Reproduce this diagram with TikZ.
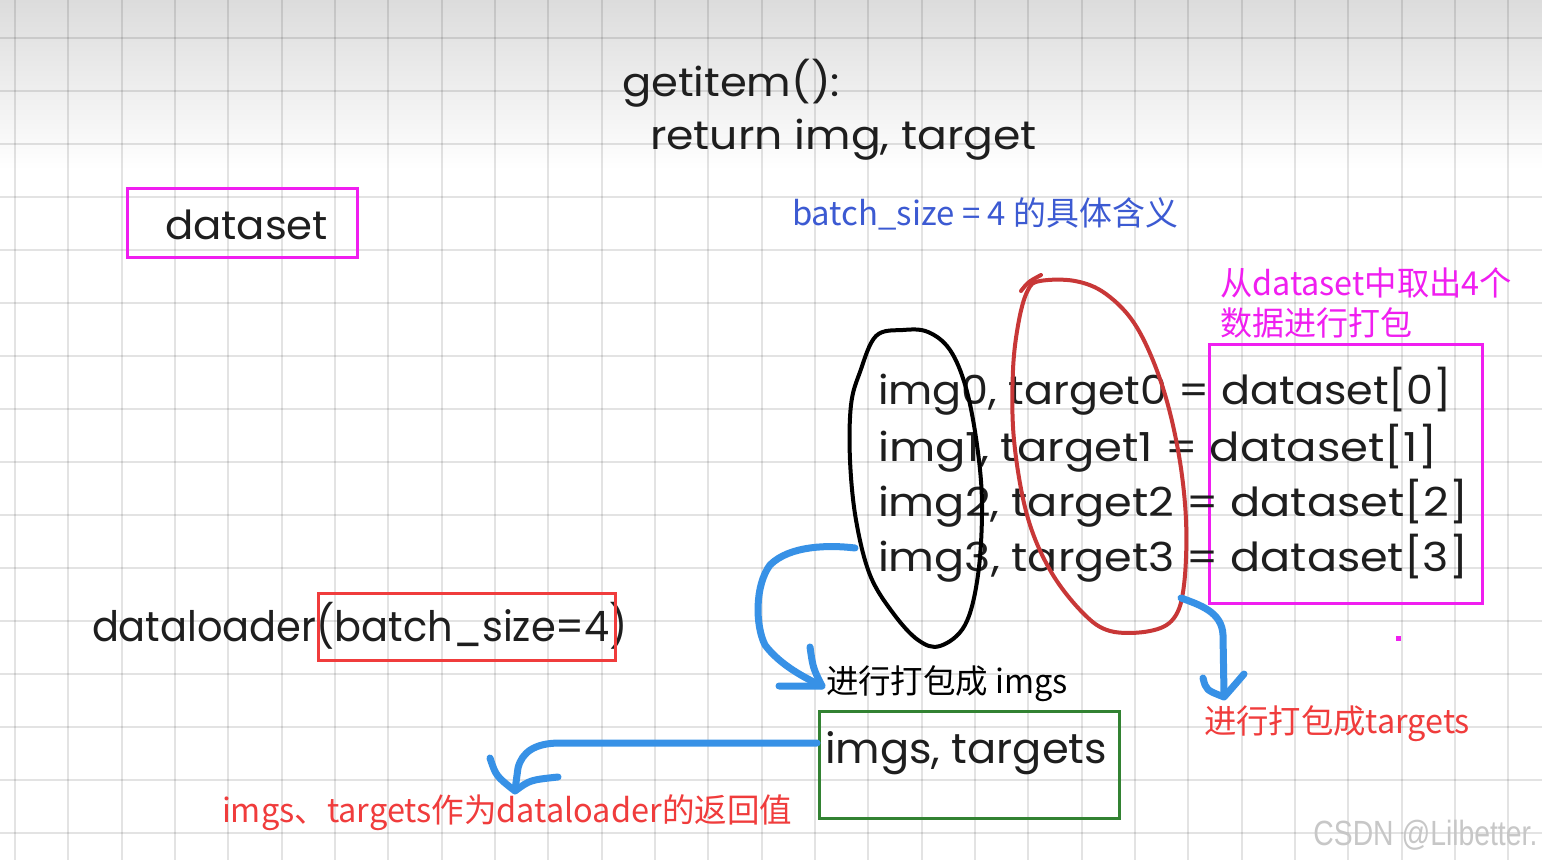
\documentclass[tikz,border=0pt]{standalone}
\usepackage{fontspec}
\usepackage{graphicx}
\setmainfont{Poppins}
\newfontfamily\hand{Poppins}
\newfontfamily\cjk{Noto Sans CJK SC}
\newfontfamily\wmfont{Liberation Sans}
\definecolor{ink}{RGB}{30,30,30}
\definecolor{mag}{RGB}{240,30,240}
\definecolor{redbox}{RGB}{240,60,60}
\definecolor{redtxt}{RGB}{240,60,60}
\definecolor{bluetxt}{RGB}{60,90,210}
\definecolor{greenbox}{RGB}{50,130,50}
\definecolor{arrowblue}{RGB}{55,145,230}
\definecolor{redloop}{RGB}{200,55,55}
\definecolor{topgray}{RGB}{220,220,220}
\newcommand{\fitw}[2]{\resizebox{#1}{\height}{#2}}
\begin{document}
\begin{tikzpicture}[x=0.5pt,y=-0.5pt,
  hw/.style={inner sep=0pt,outer sep=0pt,anchor=base west,text=ink,font=\hand\fontsize{20pt}{24pt}\selectfont},
  cn/.style={inner sep=0pt,outer sep=0pt,anchor=base west,font=\cjk\fontsize{16.5pt}{20pt}\selectfont},
  boxed/.style={draw=#1,line width=1.5pt,inner sep=0pt,outer sep=0pt,anchor=north west},
  gridline/.style={black,opacity=0.11,line width=1pt},
  barrow/.style={draw=arrowblue,line width=3.5pt,line cap=round,line join=round},
  loop/.style={line width=2pt,line cap=round,line join=round}]
\useasboundingbox (0,0) rectangle (1542,860);
\fill[white] (0,0) rectangle (1542,860);
\shade[top color=topgray,bottom color=white] (0,0) rectangle (1542,170);
% grid
\foreach \k in {0,...,28} {\draw[gridline] ({15+53.33*\k},0) -- ({15+53.33*\k},860);}
\foreach \k in {0,...,15} {\draw[gridline] (0,{38+53*\k}) -- (1542,{38+53*\k});}

% top code
\node[hw] (getitem) at (622,97) {\fitw{109pt}{getitem():}};
\node[hw] (ret) at (650,150) {\fitw{193.5pt}{return img, target}};

% dataset box
\node[boxed=mag,minimum width=115pt,minimum height=34.5pt] (dsbox) at (127,189) {};
\node[hw] (ds) at (165,240) {\fitw{81.5pt}{dataset}};

% blue title
\node[cn,text=bluetxt] (title) at (792,226) {\fitw{193pt}{batch\_size = 4 的具体含义}};

% magenta note
\node[cn,text=mag] (note1) at (1220,296) {\fitw{146pt}{从dataset中取出4个}};
\node[cn,text=mag] (note2) at (1220,336) {\fitw{96pt}{数据进行打包}};
\node[boxed=mag,minimum width=136.5pt,minimum height=129.5pt] (dsitems) at (1209,345) {};
\fill[mag] (1396,636) rectangle (1401,641);

% four lines
\node[hw] (l0) at (878,405) {\fitw{287pt}{img0, target0 = dataset[0]}};
\node[hw] (l1) at (878,462) {\fitw{279.5pt}{img1, target1 = dataset[1]}};
\node[hw] (l2) at (878,517) {\fitw{295pt}{img2, target2 = dataset[2]}};
\node[hw] (l3) at (878,572) {\fitw{295pt}{img3, target3 = dataset[3]}};

% black loop around imgs
\draw[loop,black] plot[smooth cycle,tension=0.6] coordinates {(876,336) (903,330) (928,332) (950,350) (966,388) (977,445) (982,505) (978,575) (965,625) (940,646) (918,640) (893,613) (870,575) (856,520) (850,460) (851,405) (860,372)};
\coordinate (imgloop) at (855,548);
% red loop around targets
\draw[loop,redloop] plot[smooth cycle,tension=0.6] coordinates {(1040,281) (1075,281) (1106,294) (1136,326) (1161,382) (1178,450) (1186,520) (1184,585) (1174,618) (1150,631) (1110,631) (1082,612) (1050,570) (1027,515) (1014,440) (1013,370) (1019,320) (1028,290)};
\draw[loop,redloop] (1021,291) .. controls (1028,282) .. (1041,275);
\coordinate (tgtloop) at (1181,598);

% dataloader
\node[hw,font=\hand\fontsize{21pt}{25pt}\selectfont] (dl) at (92,642) {\fitw{268pt}{dataloader(batch\_size=4)}};
\node[boxed=redbox,minimum width=148.5pt,minimum height=33pt] (bsbox) at (318,594) {};

% imgs label
\node[cn,text=black] (packimgs) at (826,693) {\fitw{121pt}{进行打包成 imgs}};
% green result box
\node[boxed=greenbox,minimum width=150pt,minimum height=53.5pt] (result) at (819,711) {};
\node[hw,font=\hand\fontsize{21pt}{25pt}\selectfont] (res) at (825,763) {\fitw{141pt}{imgs, targets}};
\coordinate (resleft) at (817,743);

% targets label
\node[cn,text=redtxt] (packtgts) at (1204,733) {\fitw{133pt}{进行打包成targets}};
% return label
\node[cn,text=redtxt] (retlabel) at (222,822) {\fitw{285pt}{imgs、targets作为dataloader的返回值}};

% blue arrows
\draw[barrow] (imgloop) .. controls (830,545) and (790,545) .. (770,565)
  .. controls (755,585) and (755,625) .. (765,645)
  .. controls (780,665) and (805,678) .. (822,686);
\draw[barrow] (810,647) .. controls (813,668) .. (822,686) -- (779,686);

\draw[barrow] (resleft) -- (560,743) .. controls (535,743) and (522,752) .. (518,768) -- (515,790);
\draw[barrow] (490,758) .. controls (496,776) .. (515,791) .. controls (530,780) .. (558,777);

\draw[barrow] (tgtloop) .. controls (1200,605) and (1222,612) .. (1223,635) -- (1224,694);
\draw[barrow] (1203,678) .. controls (1206,690) .. (1224,697) .. controls (1232,688) .. (1244,674);

% watermark
\node[inner sep=0pt,anchor=base west,text=black!22,font=\wmfont\fontsize{17.5pt}{20pt}\selectfont] (wm) at (1313,845) {\fitw{112pt}{CSDN @Lilbetter.}};
\end{tikzpicture}
\end{document}
